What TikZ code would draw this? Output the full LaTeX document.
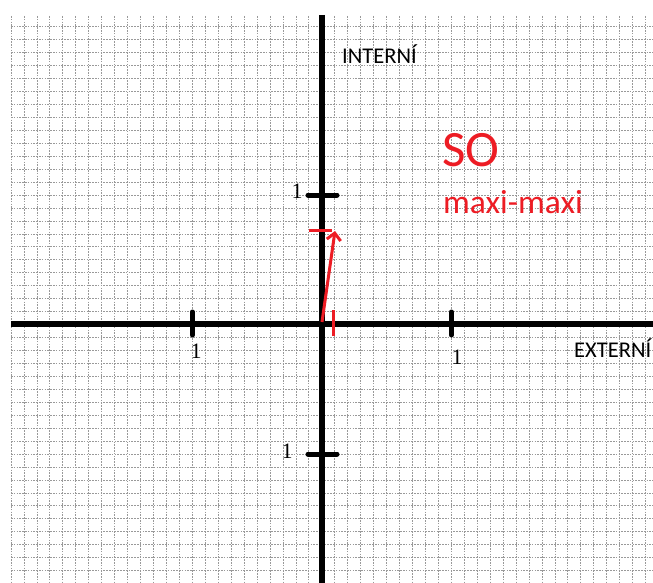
\documentclass[tikz,border=0pt]{standalone}
\usepackage{fontspec}
\setmainfont{Carlito}
\newfontfamily\numfont{Liberation Serif}
\usetikzlibrary{arrows.meta}
\definecolor{penred}{RGB}{237,28,36}
\tikzset{
 gridline/.style={black!40, line width=0.8pt, dash pattern=on 1.6pt off 1.2pt},
 axisline/.style={black, line width=6pt},
 tickmark/.style={black, line width=5pt, line cap=round},
 redmark/.style={penred, line width=3pt},
 ticklabel/.style={font=\numfont\fontsize{22}{22}\selectfont, inner sep=0pt},
 axislabel/.style={font=\fontsize{22.5}{22.5}\selectfont, inner sep=0pt, anchor=base west},
}
\begin{document}
\begin{tikzpicture}[x=1pt,y=-1pt]
\useasboundingbox (0,0) rectangle (653,583);
\begin{scope}
\clip (0,0) rectangle (653,583);
\foreach \k in {0,...,49} \draw[gridline] ({11+12.95*\k},16) -- ({11+12.95*\k},583);
\foreach \k in {0,...,43} \draw[gridline] (11,{26.7+12.95*\k}) -- (653,{26.7+12.95*\k});
\end{scope}
% axes
\coordinate (ytop) at (321.8,15);
\coordinate (ybot) at (321.8,583);
\coordinate (xleft) at (11,324);
\coordinate (xright) at (653,324);
\draw[axisline] (ytop) -- (ybot);
\draw[axisline] (xleft) -- (xright);
% ticks
\coordinate (xa1) at (192.3,312); \coordinate (xb1) at (192.3,335);
\coordinate (xa2) at (451.3,312); \coordinate (xb2) at (451.3,335);
\coordinate (ya1) at (308,195); \coordinate (yb1) at (337,195);
\coordinate (ya2) at (308,454); \coordinate (yb2) at (337,454);
\draw[tickmark] (xa1) -- (xb1);
\draw[tickmark] (xa2) -- (xb2);
\draw[tickmark] (ya1) -- (yb1);
\draw[tickmark] (ya2) -- (yb2);
% tick labels
\node[ticklabel] (lx1) at (196,351) {1};
\node[ticklabel] (lx2) at (457,357) {1};
\node[ticklabel] (ly1) at (297,191) {1};
\node[ticklabel] (ly2) at (287,451) {1};
% axis labels
\node[axislabel] (intern) at (342,63.3) {INTERNÍ};
\node[axislabel] (extern) at (574,357.7) {EXTERNÍ};
% red marks
\coordinate (ro) at (322,322);
\coordinate (rtip) at (335,231);
\coordinate (rh1) at (309,230); \coordinate (rh2) at (332,230);
\coordinate (rv1) at (333.5,310); \coordinate (rv2) at (333.5,336);
\draw[redmark] (rh1) -- (rh2);
\draw[redmark] (rv1) -- (rv2);
\draw[redmark, -{Straight Barb[length=7pt,width=14pt,line width=3pt]}] (ro) -- (rtip);
% red texts
\node[font=\fontsize{51}{51}\selectfont, text=penred, inner sep=0pt, anchor=base west] (so) at (442,166) {SO};
\node[font=\fontsize{33.5}{33.5}\selectfont, text=penred, inner sep=0pt, anchor=base west] (mm) at (443,213.5) {maxi-maxi};
\end{tikzpicture}
\end{document}
